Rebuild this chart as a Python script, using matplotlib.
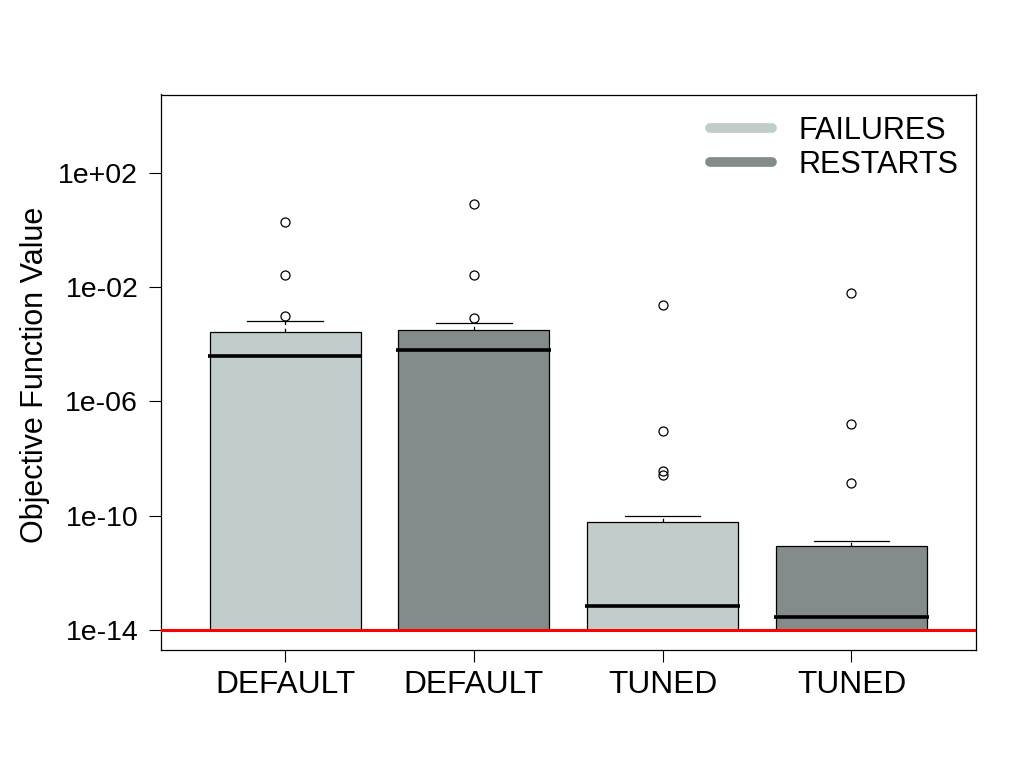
import matplotlib
matplotlib.use("Agg")
import matplotlib.pyplot as plt
from matplotlib.lines import Line2D

# ---- data ----
categories = ["DEFAULT", "DEFAULT", "TUNED", "TUNED"]
groups = ["FAILURES", "RESTARTS", "FAILURES", "RESTARTS"]
q1 = [1e-14, 1e-14, 1e-14, 1e-14]
medians = [3.98e-5, 6.3e-5, 6.8e-14, 2.75e-14]
q3 = [2.69e-4, 3.16e-4, 5.9e-11, 8.5e-12]
whisker_low = [1e-14, 1e-14, 1e-14, 1e-14]
whisker_high = [6.46e-4, 5.5e-4, 9.8e-11, 1.29e-11]
outliers = [
    [1.905, 0.0269, 9.77e-4],
    [8.13, 0.0269, 8.5e-4],
    [2.29e-3, 9.1e-8, 3.7e-9, 2.7e-9],
    [6.3e-3, 1.62e-7, 1.38e-9],
]
threshold = 1e-14
ytick_values = [1e2, 1e-2, 1e-6, 1e-10, 1e-14]
ytick_labels = ["1e+02", "1e-02", "1e-06", "1e-10", "1e-14"]
legend_labels = ["FAILURES", "RESTARTS"]
group_colors = {"FAILURES": "#C1CDCD", "RESTARTS": "#838B8B"}

plt.rcParams["font.family"] = ["Liberation Sans", "DejaVu Sans"]

fig = plt.figure(figsize=(10.24, 7.68), dpi=100)
ax = fig.add_axes([160.5 / 1024, 1 - 650 / 768, (976 - 160.5) / 1024, (650 - 94.5) / 768])

stats = []
for i in range(len(categories)):
    stats.append(dict(med=medians[i], q1=q1[i], q3=q3[i],
                      whislo=whisker_low[i], whishi=whisker_high[i],
                      fliers=outliers[i], label=categories[i]))

positions = list(range(1, len(categories) + 1))
bp = ax.bxp(stats, positions=positions, widths=0.8, patch_artist=True,
            showfliers=True, capwidths=0.4,
            boxprops=dict(edgecolor="black", linewidth=0.9),
            medianprops=dict(color="black", linewidth=2.6, solid_capstyle="butt"),
            whiskerprops=dict(color="black", linewidth=0.9, linestyle=(0, (3, 3))),
            capprops=dict(color="black", linewidth=0.9),
            flierprops=dict(marker="o", markerfacecolor="none",
                            markeredgecolor="black", markersize=6.5,
                            markeredgewidth=0.9, linestyle="none"))
for patch, g in zip(bp["boxes"], groups):
    patch.set_facecolor(group_colors[g])
for med in bp["medians"]:
    x = med.get_xdata()
    med.set_xdata([x[0] - 0.01, x[1] + 0.01])

ax.set_yscale("log")
ax.set_ylim(2.0e-15, 5.5e4)
ax.set_xlim(0.34, 4.66)

ax.axhline(threshold, color="#FF0000", linewidth=2.2, zorder=5)

ax.set_yticks(ytick_values)
ax.set_yticklabels(ytick_labels)
ax.yaxis.set_minor_locator(matplotlib.ticker.NullLocator())
ax.set_xticks(positions)
ax.set_xticklabels(categories)

ax.tick_params(axis="y", which="major", direction="out", length=8.6, width=0.8,
               pad=7.5, labelsize=20.5)
ax.tick_params(axis="x", which="major", direction="out", length=8.6, width=0.8,
               pad=5.5, labelsize=22.8)
for s in ax.spines.values():
    s.set_linewidth(0.9)
    s.set_color("black")

fig.text(35 / 1024, 1 - 375 / 768, "Objective Function Value", rotation=90,
         ha="center", va="center", fontsize=22)

handles = [Line2D([0], [0], color=group_colors[g], linewidth=7.0, solid_capstyle="round")
           for g in legend_labels]
leg = ax.legend(handles, legend_labels, loc="upper right", frameon=False,
                fontsize=22, handlelength=2.03, handletextpad=0.88,
                labelspacing=0.15, bbox_to_anchor=(0.979, 0.962),
                borderaxespad=0.0, borderpad=0.0)

fig.savefig("out.png", dpi=100)
